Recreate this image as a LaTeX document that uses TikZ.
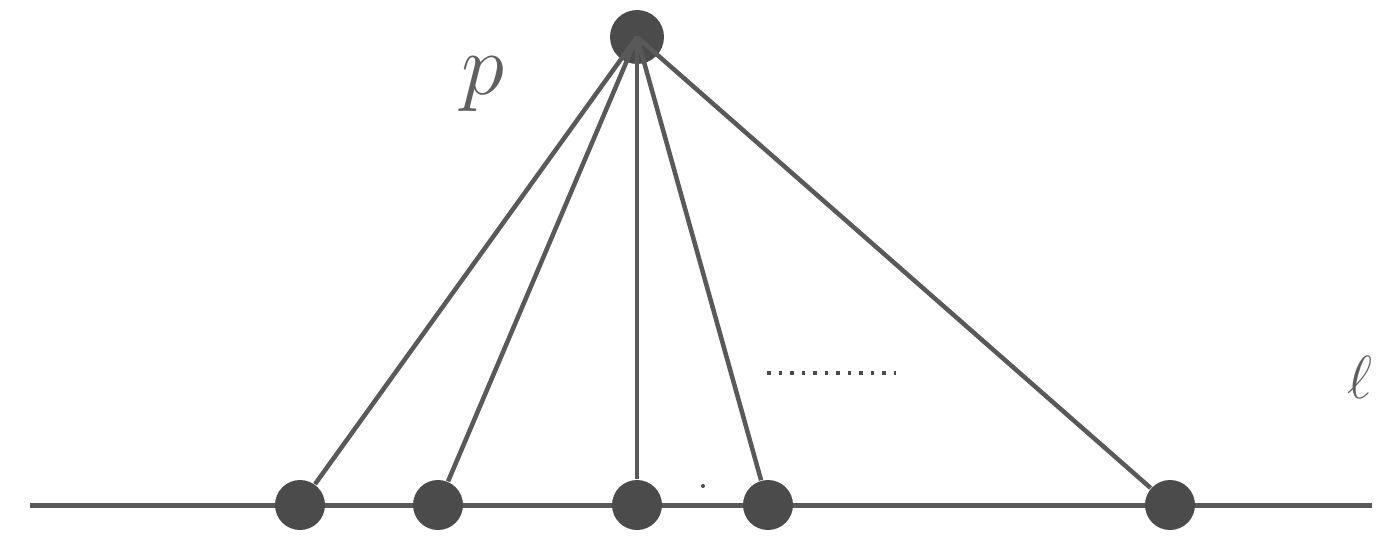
\documentclass[tikz,border=0pt]{standalone}
\usepackage{xcolor}
\usepackage{tikz}
\usetikzlibrary{positioning,calc}
\definecolor{ptgray}{HTML}{4B4B4B}
\definecolor{lngray}{HTML}{595959}
\definecolor{txgray}{HTML}{606060}
\tikzset{
  ptdot/.style={circle, fill=ptgray, draw=none, inner sep=0pt, minimum size=#1},
  ray/.style={draw=lngray, line width=0.45mm},
  baseln/.style={draw=lngray, line width=0.5mm},
  gap/.style={draw=ptgray, line width=0.4mm, dash pattern=on 0.35mm off 0.8mm},
}
\begin{document}
\begin{tikzpicture}[x=0.1mm, y=-0.1mm]
    \useasboundingbox (0,0) rectangle (1381,545);
    % line l and its end points
    \coordinate (lft) at (30,505);
    \coordinate (rgt) at (1372,505);
    \draw[baseln] (lft) -- (rgt);
    % the point p and the points on l
    \node[ptdot=5.4mm] (p) at (637,37) {};
    \node[ptdot=5.0mm] (q1) at (300,505) {};
    \node[ptdot=5.0mm] (q2) at (438,505) {};
    \node[ptdot=5.0mm] (q3) at (637,505) {};
    \node[ptdot=5.0mm] (q4) at (768,505) {};
    \node[ptdot=5.0mm] (q5) at (1170,505) {};
    \draw[ray] (p.center) -- (q1); \draw[ray] (p.center) -- (q2);
    \draw[ray] (p.center) -- (q3); \draw[ray] (p.center) -- (q4);
    \draw[ray] (p.center) -- (q5);
    % dots between the rays
    \coordinate (g1) at (767,373);
    \coordinate (g2) at (896,373);
    \draw[gap] (g1) -- (g2);
    \fill[ptgray] (703,486) circle (0.2mm);
    % labels
    \node[text=txgray, font=\fontsize{25}{30}\selectfont] (lp) at (483,84) {$p$};
    \node[text=txgray, font=\fontsize{18}{22}\selectfont] (ll) at (1360,377) {$\ell$};
  \end{tikzpicture}
\end{document}
